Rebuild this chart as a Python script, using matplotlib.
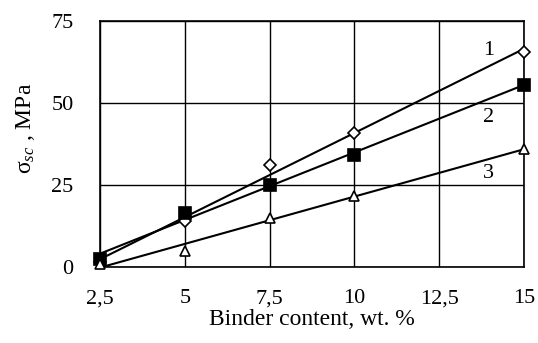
import numpy as np
import matplotlib
matplotlib.use('Agg')
import matplotlib.pyplot as plt

plt.rcParams['font.family'] = ['Liberation Serif', 'DejaVu Serif']
plt.rcParams['mathtext.fontset'] = 'custom'
plt.rcParams['mathtext.rm'] = 'Liberation Serif'
plt.rcParams['mathtext.it'] = 'Liberation Serif:italic'

# binder content, wt. %
binder = [2.5, 5, 7.5, 10, 15]
# strength of the three mixes, MPa
curve1 = [1.5, 14, 31, 41, 65.5]
curve2 = [2.5, 16.5, 25, 34, 55.5]
curve3 = [1.0, 5, 15, 21.5, 36]

xticks = [2.5, 5, 7.5, 10, 12.5, 15]
xticklabels = ['2,5', '5', '7,5', '10', '12,5', '15']
yticks = [0, 25, 50, 75]

fig = plt.figure(figsize=(5.38, 3.43), dpi=100)
ax = fig.add_axes([100 / 538, 1 - 267 / 343, 424 / 538, 246 / 343])

styles = [
    (curve1, 'D', 'white', 6, '1', 66),
    (curve2, 's', 'black', 8.5, '2', 45.5),
    (curve3, '^', 'white', 7.5, '3', 28.5),
]

for ys, mk, fc, ms, lab, ly in styles:
    k, b = np.polyfit(binder, ys, 1)
    xs = np.array([binder[0], binder[-1]])
    ax.plot(xs, k * xs + b, color='black', lw=1.5, zorder=3)
    ax.plot(binder, ys, ls='none', marker=mk, mfc=fc, mec='black',
            mew=1.2, ms=ms, zorder=4, clip_on=False)
    ax.text(13.95, ly, lab, fontsize=16, ha='center', va='center')

ax.set_xlim(2.5, 15)
ax.set_ylim(0, 75)
ax.set_xticks(xticks)
ax.set_xticklabels(xticklabels)
ax.set_yticks(yticks)
ax.grid(True, color='black', lw=1)
ax.set_axisbelow(True)
for s in ax.spines.values():
    s.set_linewidth(1.2)
ax.tick_params(length=0, labelsize=16)
ax.tick_params(axis='x', pad=16)
ax.tick_params(axis='y', pad=19)

ax.set_xlabel('Binder content, wt. %', fontsize=17)
ax.xaxis.label.set_va('center')
ax.xaxis.set_label_coords(0.50, -0.215)
ax.set_ylabel(r'σ$_{\it sc}$ , MPa', fontsize=17)
ax.yaxis.label.set_va('center')
ax.yaxis.set_label_coords(-0.175, 0.565)

fig.savefig('out.png', dpi=100)
